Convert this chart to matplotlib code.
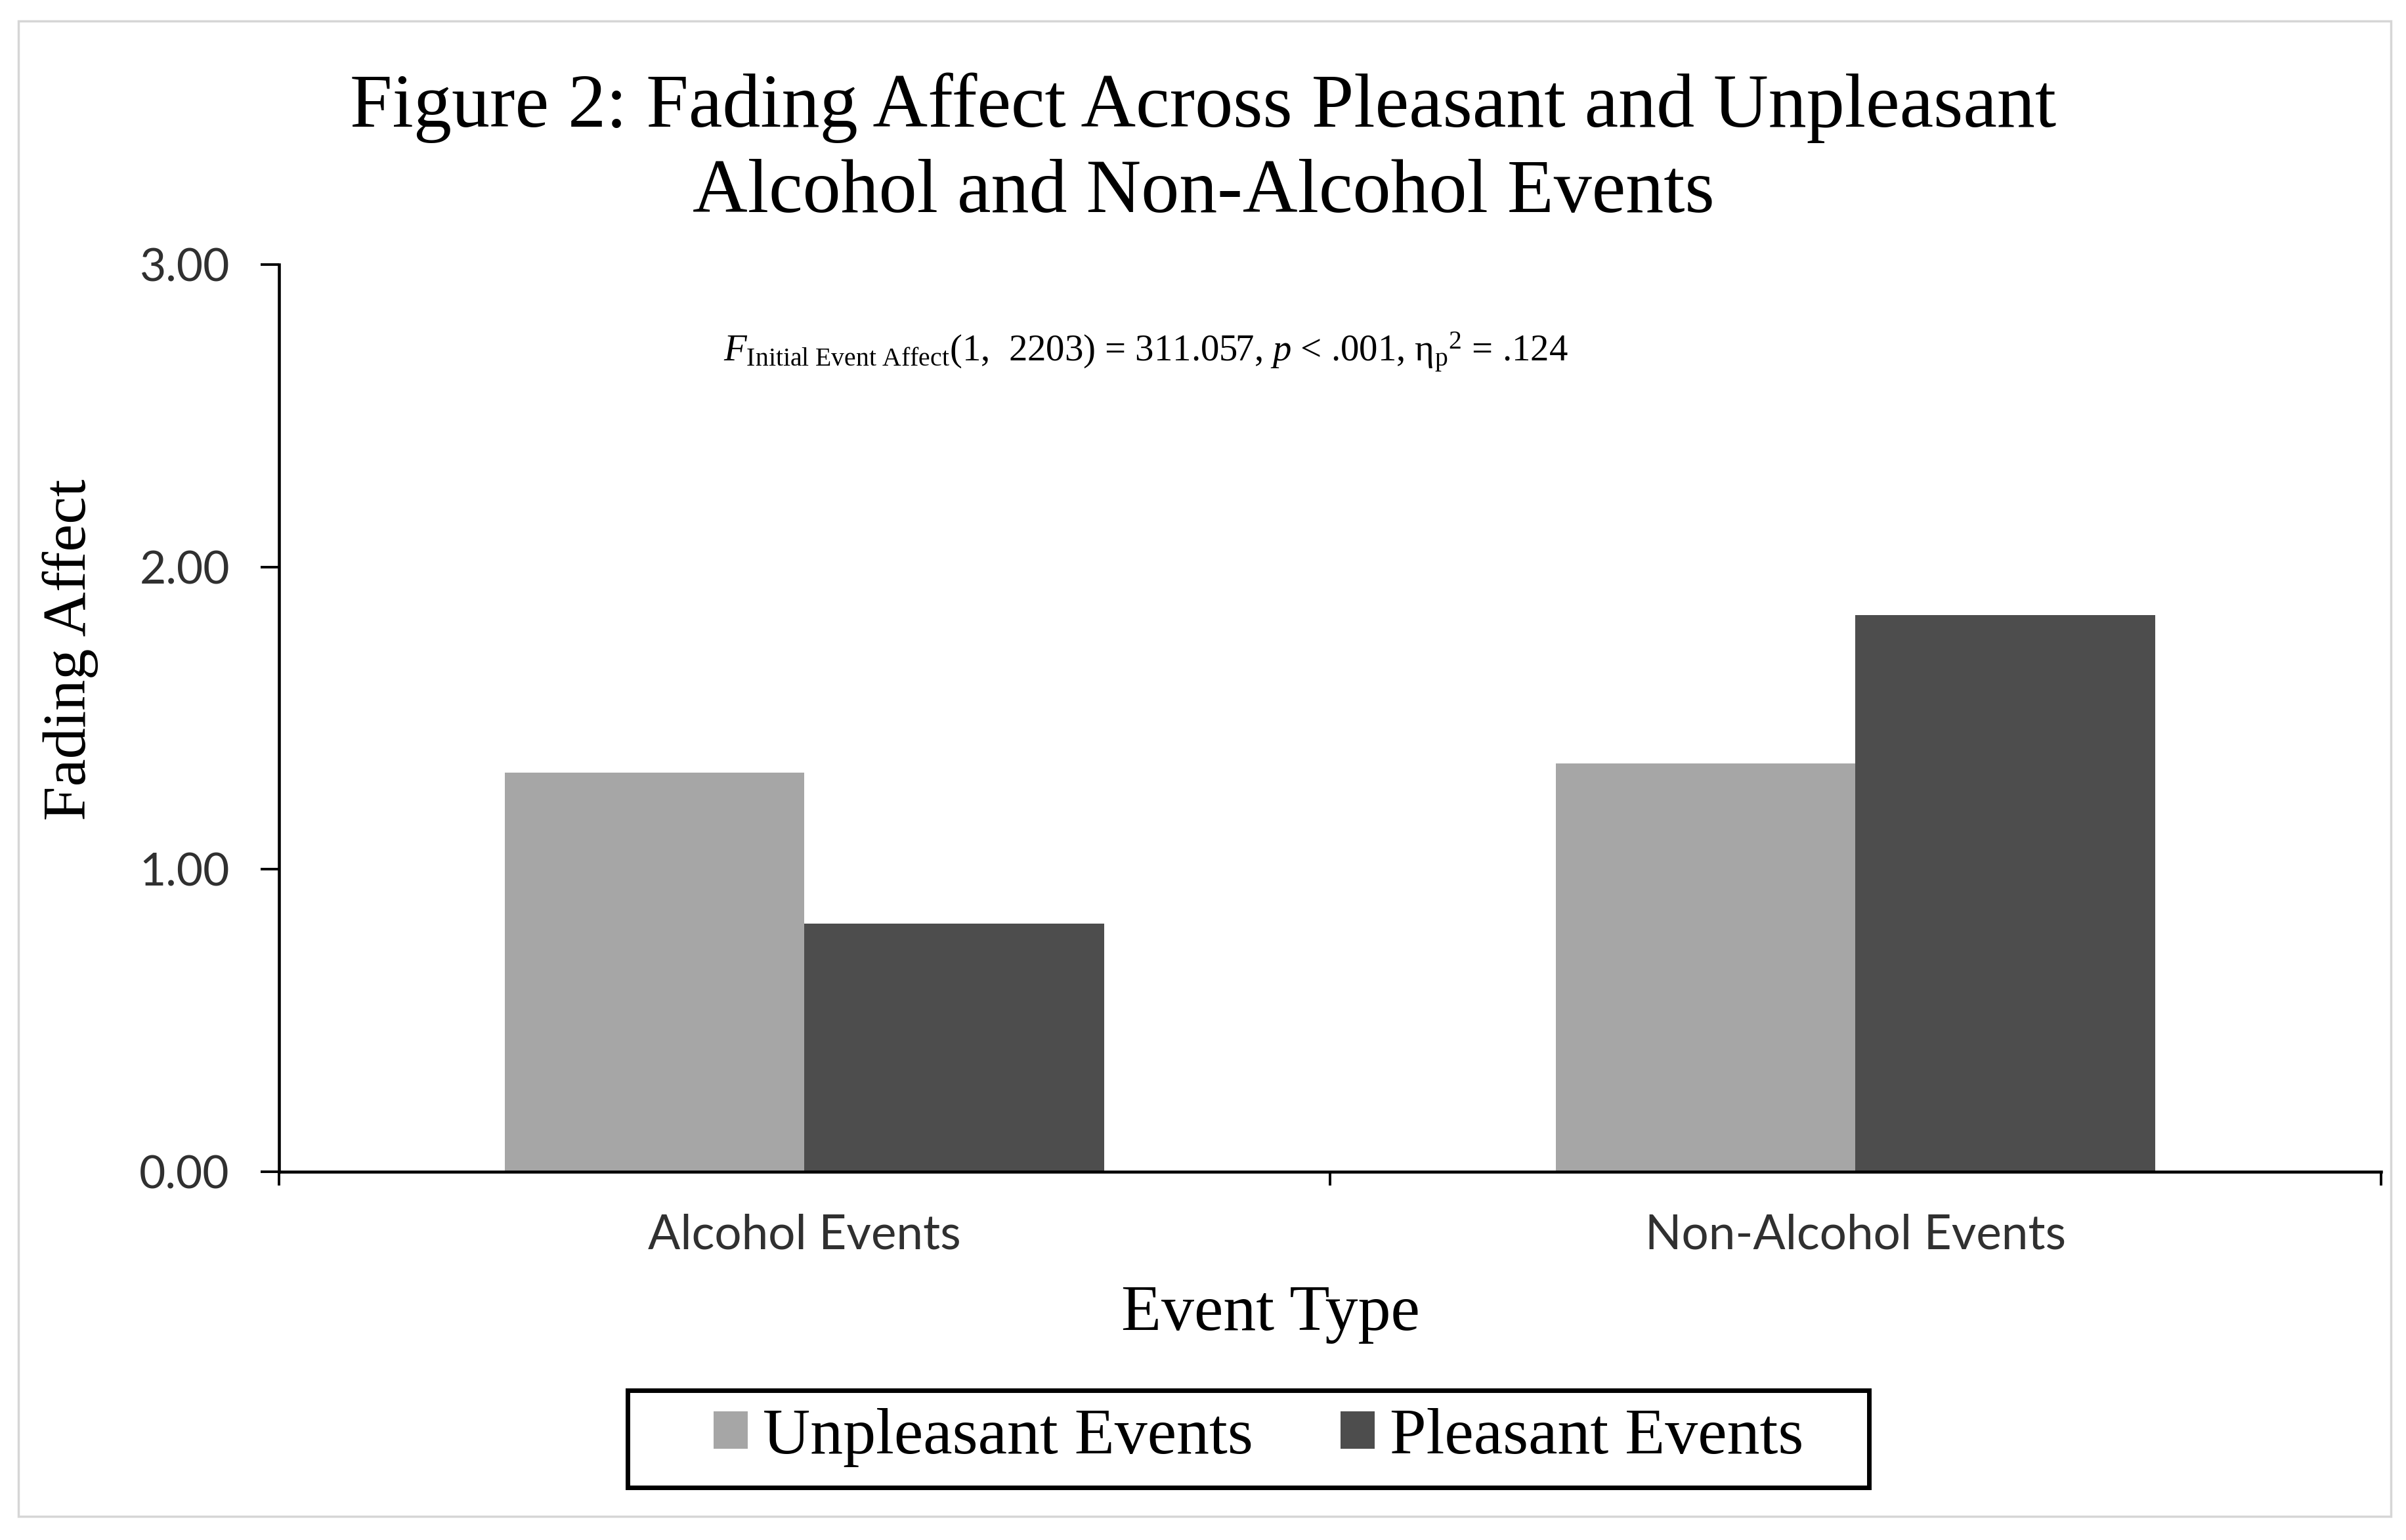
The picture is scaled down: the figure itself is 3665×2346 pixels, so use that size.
import matplotlib
matplotlib.use("Agg")
import matplotlib.pyplot as plt
from matplotlib.patches import Rectangle
import numpy as np

# ---- data ----
categories = ["Alcohol Events", "Non-Alcohol Events"]
series_names = ["Unpleasant Events", "Pleasant Events"]
unpleasant = [1.32, 1.35]
pleasant = [0.82, 1.84]
y_ticks = [0.0, 1.0, 2.0, 3.0]
y_tick_labels = ["0.00", "1.00", "2.00", "3.00"]

title_text = "Figure 2: Fading Affect Across Pleasant and Unpleasant\nAlcohol and Non-Alcohol Events"
annotation = (r"$F_{\mathrm{Initial\ Event\ Affect}}$(1,  2203) = 311.057, "
              r"$p$ < .001, η$_{\mathrm{p}}$$^{2}$ = .124")

# ---- style ----
SERIF = "Liberation Serif"
SANS = "Lato"
plt.rcParams["mathtext.fontset"] = "custom"
plt.rcParams["mathtext.rm"] = SERIF
plt.rcParams["mathtext.it"] = SERIF + ":italic"
plt.rcParams["mathtext.bf"] = SERIF + ":bold"

light = "#A6A6A6"
dark = "#4D4D4D"
W, H = 3666, 2346
DPI = 100

fig = plt.figure(figsize=(W / DPI, H / DPI), dpi=DPI)
fig.patch.set_facecolor("white")

ax_l, ax_r, ax_b, ax_t = 425, 3627, 1785, 403
ax = fig.add_axes([ax_l / W, 1 - ax_b / H, (ax_r - ax_l) / W, (ax_b - ax_t) / H])

x = np.arange(len(categories))
bw = 0.285
b1 = ax.bar(x - bw / 2, unpleasant, bw, color=light, label=series_names[0], zorder=2)
b2 = ax.bar(x + bw / 2, pleasant, bw, color=dark, label=series_names[1], zorder=2)

ax.set_xlim(-0.5, len(categories) - 0.5)
ax.set_ylim(0, 3)

for s in ["top", "right"]:
    ax.spines[s].set_visible(False)
for s in ["left", "bottom"]:
    ax.spines[s].set_linewidth(3.3)
    ax.spines[s].set_color("black")

ax.set_yticks(y_ticks)
ax.set_yticklabels(y_tick_labels, fontname=SANS, fontsize=50, color="#303030")
ax.tick_params(axis="y", direction="out", length=20, width=2.8, pad=34, color="black")

ax.set_xticks(x)
ax.set_xticklabels(categories, fontname=SANS, fontsize=52.5, color="#303030")
ax.tick_params(axis="x", which="major", length=0, pad=46)
ax.set_xticks(np.arange(-0.5, len(categories), 1.0), minor=True)
ax.tick_params(axis="x", which="minor", direction="out", length=15, width=2.8, color="black")

ax.set_xlabel("Event Type", fontname=SERIF, fontsize=72)
ax.xaxis.set_label_coords((1935 - ax_l) / (ax_r - ax_l), (ax_b - 1957) / (ax_b - ax_t))
ax.xaxis.label.set_va("top")

ax.set_ylabel("Fading Affect", fontname=SERIF, fontsize=68)
ax.yaxis.set_label_coords((150 - ax_l) / (ax_r - ax_l), (ax_b - 990) / (ax_b - ax_t))

# title
fig.text(0.5, 1 - 110 / H, title_text, ha="center", va="top", fontname=SERIF,
         fontsize=83.5, linespacing=1.30, multialignment="center")

# annotation
fig.text(1102 / W, 1 - 551 / H, annotation, ha="left", va="baseline",
         fontname=SERIF, fontsize=40.9)

# legend
leg = fig.legend(handles=[b1, b2], labels=series_names, loc="center",
                 bbox_to_anchor=(1917 / W, 1 - 2190 / H), ncol=2, frameon=False,
                 prop={"family": SERIF, "size": 72}, handlelength=0.52,
                 handleheight=0.49, handletextpad=0.23, columnspacing=1.33,
                 borderpad=0)
fig.add_artist(Rectangle((956 / W, 1 - 2266 / H), 1891 / W, 148 / H,
                         transform=fig.transFigure, fill=False,
                         edgecolor="black", linewidth=5))

# outer frame
fig.add_artist(Rectangle((28 / W, 1 - 2310 / H), 3614 / W, 2278 / H,
                         transform=fig.transFigure, fill=False,
                         edgecolor="#D6D6D6", linewidth=2.5))

fig.savefig("out.png", dpi=DPI, facecolor="white")
